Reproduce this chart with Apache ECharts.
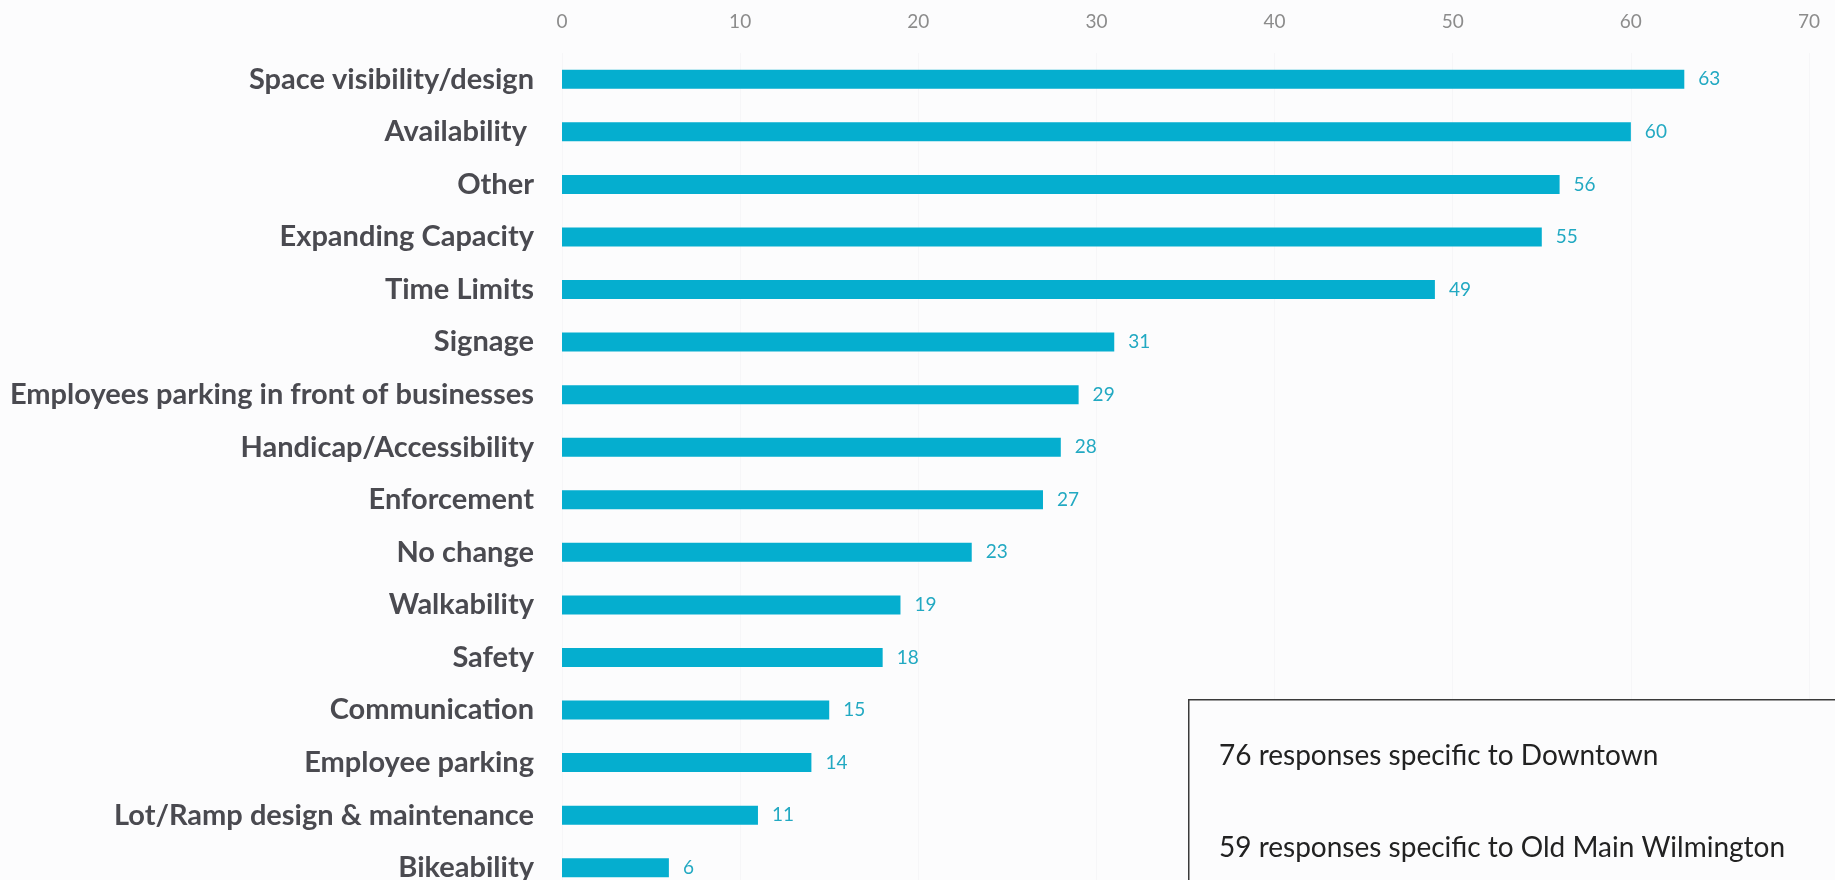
<!DOCTYPE html>
<html>
<head>
<meta charset="utf-8">
<script src="https://cdn.jsdelivr.net/npm/echarts@6/dist/echarts.min.js"></script>
<style>
  html, body { margin: 0; padding: 0; background: #fcfcfd; }
  #chart { width: 1835px; height: 880px; }
</style>
</head>
<body>
<div id="chart"></div>
<script>
// Suggested parking improvements, by number of mentions
const categories = [
  'Space visibility/design',
  'Availability ',
  'Other',
  'Expanding Capacity',
  'Time Limits',
  'Signage',
  'Employees parking in front of businesses',
  'Handicap/Accessibility',
  'Enforcement',
  'No change',
  'Walkability',
  'Safety',
  'Communication',
  'Employee parking',
  'Lot/Ramp design & maintenance',
  'Bikeability'
];
const mentions = [63, 60, 56, 55, 49, 31, 29, 28, 27, 23, 19, 18, 15, 14, 11, 6];
const axisTicks = [0, 10, 20, 30, 40, 50, 60, 70];
const noteLines = [
  '76 responses specific to Downtown',
  '59 responses specific to Old Main Wilmington'
];

const chart = echarts.init(document.getElementById('chart'));
chart.setOption({
  backgroundColor: '#fcfcfd',
  animation: false,
  grid: {
    left: 562, width: 1247, top: 53, height: 841,
    containLabel: false,
    outerBoundsMode: 'none'
  },
  xAxis: {
    type: 'value',
    position: 'top',
    min: axisTicks[0],
    max: axisTicks[axisTicks.length - 1],
    interval: axisTicks[1] - axisTicks[0],
    axisLine: { show: false },
    axisTick: { show: false },
    axisLabel: {
      color: '#8c8c8c',
      fontFamily: 'Lato',
      fontSize: 19,
      margin: 22
    },
    splitLine: { show: true, lineStyle: { color: '#f6f6f8', width: 1 } }
  },
  yAxis: {
    type: 'category',
    data: categories,
    inverse: true,
    axisLine: { show: false },
    axisTick: { show: false },
    axisLabel: {
      color: '#4a4a50',
      fontFamily: 'Lato',
      fontWeight: 'bold',
      fontSize: 29,
      margin: 28
    }
  },
  series: [{
    type: 'bar',
    data: mentions,
    barWidth: 19,
    itemStyle: { color: '#05aecf' },
    label: {
      show: true,
      position: 'right',
      distance: 14,
      color: '#22a9c2',
      fontFamily: 'Lato',
      fontSize: 19
    }
  }],
  graphic: [
    {
      type: 'rect',
      z: 100,
      left: 1188,
      top: 699,
      shape: { width: 700, height: 220 },
      style: { fill: '#fcfcfd', stroke: '#3a3a3a', lineWidth: 1.5 }
    },
    {
      type: 'text',
      z: 101,
      left: 1219,
      top: 742,
      style: { text: noteLines[0], fill: '#222', font: '28px Lato' }
    },
    {
      type: 'text',
      z: 101,
      left: 1219,
      top: 834,
      style: { text: noteLines[1], fill: '#222', font: '28px Lato' }
    }
  ]
});
</script>
</body>
</html>
